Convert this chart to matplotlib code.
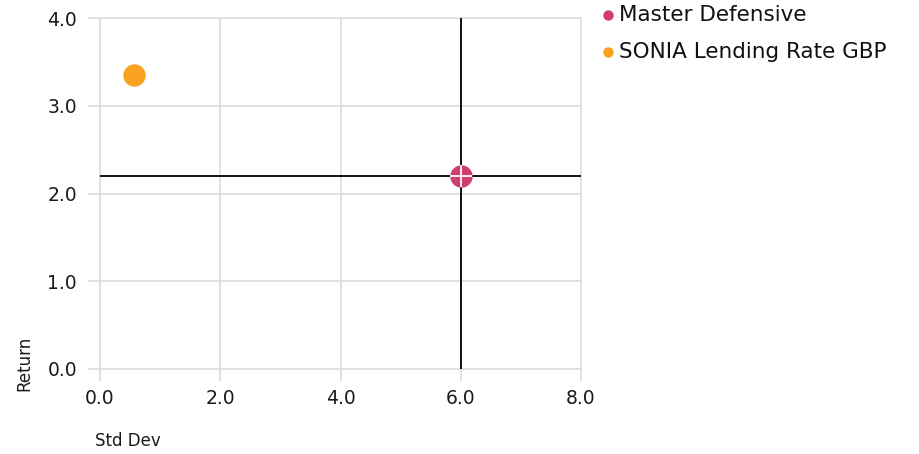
import matplotlib
matplotlib.use("Agg")
import matplotlib.pyplot as plt
from matplotlib.lines import Line2D

names = ["Master Defensive", "SONIA Lending Rate GBP"]
std_dev = [6.0, 0.56]
returns = [2.2, 3.35]
colors = ["#d13d71", "#f9a21f"]
x_ticks = [0.0, 2.0, 4.0, 6.0, 8.0]
y_ticks = [0.0, 1.0, 2.0, 3.0, 4.0]
cross_x = 6.0
cross_y = 2.2

plt.rcParams['font.family'] = ['DejaVu Sans']
fig = plt.figure(figsize=(9.19, 4.54), dpi=100)
W, H = 919, 454
ax = fig.add_axes([100 / W, (H - 369) / H, 481 / W, 351 / H])
ax.set_xlim(0, 8)
ax.set_ylim(0, 4)
for s in ax.spines.values():
    s.set_visible(False)
ax.set_xticks(x_ticks)
ax.set_yticks(y_ticks)
ax.set_xticklabels([f"{v:.1f}" for v in x_ticks])
ax.set_yticklabels([f"{v:.1f}" for v in y_ticks])
ax.grid(True, color="#dcdcdc", linewidth=1.2)
for gl in ax.xaxis.get_gridlines() + ax.yaxis.get_gridlines():
    gl.set_clip_on(False)
ax.tick_params(axis='both', color="#dcdcdc", width=1.2, length=8.6, labelsize=13.5, labelcolor="#1a1a1a")
ax.tick_params(axis='x', pad=6)
ax.tick_params(axis='y', pad=8)
ax.set_axisbelow(True)

ax.axvline(cross_x, color="black", linewidth=1.3, zorder=3)
ax.axhline(cross_y, color="black", linewidth=1.3, zorder=3)

for x, y, c in zip(std_dev, returns, colors):
    ax.scatter([x], [y], s=260, color=c, zorder=4, clip_on=False, linewidths=0)
ax.scatter([std_dev[0]], [returns[0]], s=260, marker='+', color="white", linewidths=1.3, zorder=5)

fig.text(95 / W, 1 - 441 / H, "Std Dev", fontsize=12, color="#1a1a1a", va='center', ha='left')
fig.text(24 / W, 1 - 363 / H, "Return", fontsize=12, color="#1a1a1a", rotation=90, va='center', ha='center')

for i, (name, c) in enumerate(zip(names, colors)):
    yy = 1 - (15 + 37 * i) / H
    fig.add_artist(Line2D([608 / W], [yy], transform=fig.transFigure, marker='o', linestyle='none',
                          markersize=7.5, markerfacecolor=c, markeredgewidth=0))
    fig.text(619 / W, yy, name, fontsize=15.5, color="#111111", va='center', ha='left')

fig.savefig("out.png", dpi=100)
